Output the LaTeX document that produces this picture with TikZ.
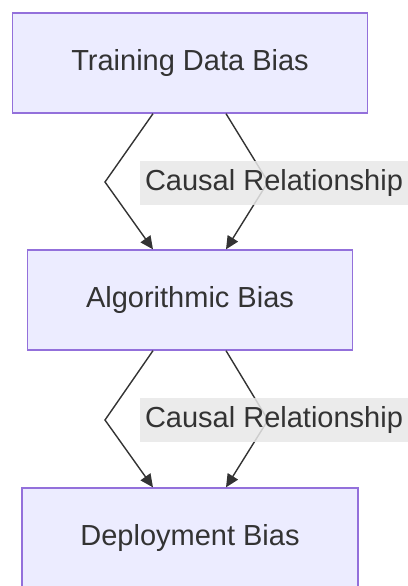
\documentclass[tikz,border=0pt]{standalone}
\usepackage{fontspec}
\setmainfont{Liberation Sans}
\usetikzlibrary{positioning,arrows.meta}
\definecolor{boxfill}{HTML}{ECECFF}
\definecolor{boxline}{HTML}{9370DB}
\definecolor{ink}{HTML}{333333}
\definecolor{labelbg}{HTML}{E8E8E8}
\tikzset{block/.style={draw=boxline, fill=boxfill, line width=1.3pt, inner xsep=58.5pt, minimum height=100pt, text=ink, font=\fontsize{29}{34}\selectfont},
line/.style={-{Triangle[length=13pt,width=12pt]}, line width=1.4pt, draw=ink},
edgelabel/.style={fill=labelbg, fill opacity=0.85, text opacity=1, text=ink, inner xsep=5pt, minimum height=44pt, font=\fontsize{29}{34}\selectfont}
}

\begin{document}
\begin{tikzpicture}[node distance=237pt, every node/.style={align=center}]
    \useasboundingbox (0,0) rectangle (407pt,-586pt);
    % Nodes
    \node [block] (training) at (190pt,-63pt) {Training Data Bias};
    \node [block, below of=training] (algorithmic) {Algorithmic Bias};
    \node [block, below of=algorithmic, yshift=-1pt] (deployment) {Deployment Bias};
    % Bends
    \coordinate (bendA) at (105pt,-182pt);
    \coordinate (bendB) at (268pt,-182pt);
    \coordinate (bendC) at (105pt,-420pt);
    \coordinate (bendD) at (268pt,-420pt);
    % Arrows
    \draw [line] ([xshift=-37pt]training.south) -- (bendA) -- ([xshift=-37pt]algorithmic.north);
    \draw [line] ([xshift=36pt]training.south) -- (bendB) -- ([xshift=36pt]algorithmic.north);
    \draw [line] ([xshift=-37pt]algorithmic.south) -- (bendC) -- ([xshift=-37pt]deployment.north);
    \draw [line] ([xshift=36pt]algorithmic.south) -- (bendD) -- ([xshift=36pt]deployment.north);
    % Labels
    \node [edgelabel] (causalA) at (274pt,-183pt) {Causal Relationship};
    \node [edgelabel] (causalB) at (274pt,-420pt) {Causal Relationship};
  \end{tikzpicture}
\end{document}
